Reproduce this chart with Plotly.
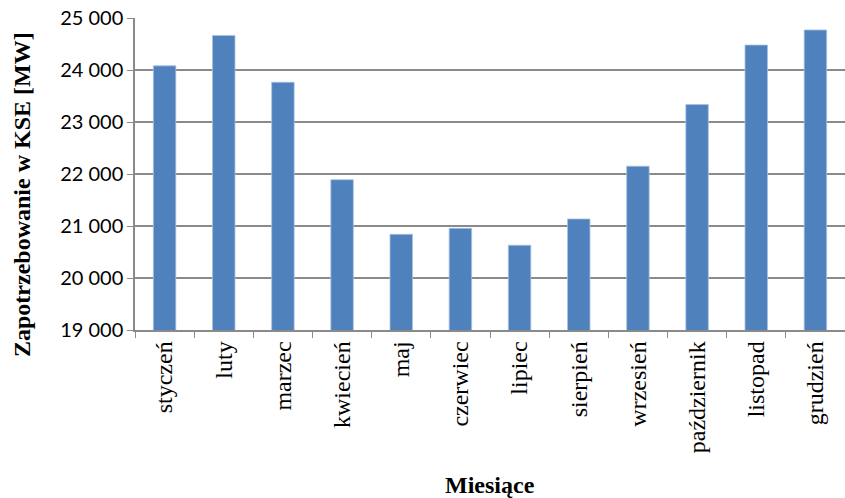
import plotly.graph_objects as go

# Monthly power demand in the national grid (KSE)
months = ["styczeń", "luty", "marzec", "kwiecień", "maj", "czerwiec",
          "lipiec", "sierpień", "wrzesień", "październik", "listopad", "grudzień"]
demand_mw = [24080, 24665, 23765, 21890, 20840, 20955,
             20630, 21135, 22150, 23335, 24480, 24770]

y_ticks = [19000, 20000, 21000, 22000, 23000, 24000, 25000]

SERIF = "Liberation Serif, Times New Roman, serif"

fig = go.Figure(go.Bar(
    x=months,
    y=demand_mw,
    marker=dict(color="#4F81BD", line=dict(color="#A9C1E0", width=0.8)),
    width=0.38,
))

fig.update_layout(
    width=845, height=498,
    margin=dict(l=135, r=0, t=18, b=168),
    paper_bgcolor="white",
    plot_bgcolor="white",
    separators=", ",
    showlegend=False,
)

fig.update_yaxes(
    range=[19000, 25000],
    tickvals=y_ticks,
    tickformat=",d",
    showgrid=True, gridcolor="#8A8A8A", gridwidth=1.5,
    showline=True, linecolor="#8A8A8A", linewidth=1.5,
    ticks="outside", ticklen=6, tickcolor="#8A8A8A",
    tickfont=dict(family="Lato, Open Sans, sans-serif", size=20, color="#000"),
    zeroline=False,
)

fig.update_xaxes(
    showline=True, linecolor="#8A8A8A", linewidth=1.5,
    ticks="outside", ticklen=6, tickcolor="#8A8A8A",
    tickson="boundaries",
    tickangle=-90,
    tickfont=dict(family=SERIF, size=24, color="#000"),
)

# Axis titles placed as annotations
fig.add_annotation(
    text="<b>Zapotrzebowanie w KSE [MW]</b>",
    xref="paper", yref="paper", x=0, y=(330 - 195) / 312,
    xshift=-113, textangle=-90, showarrow=False,
    xanchor="center", yanchor="middle",
    font=dict(family=SERIF, size=24, color="#000"),
)
fig.add_annotation(
    text="<b>Miesiące</b>",
    xref="paper", yref="paper", x=(490 - 135) / 710, y=0,
    yshift=-(485 - 330), showarrow=False,
    xanchor="center", yanchor="middle",
    font=dict(family=SERIF, size=24, color="#000"),
)

fig.write_html("out.html")
